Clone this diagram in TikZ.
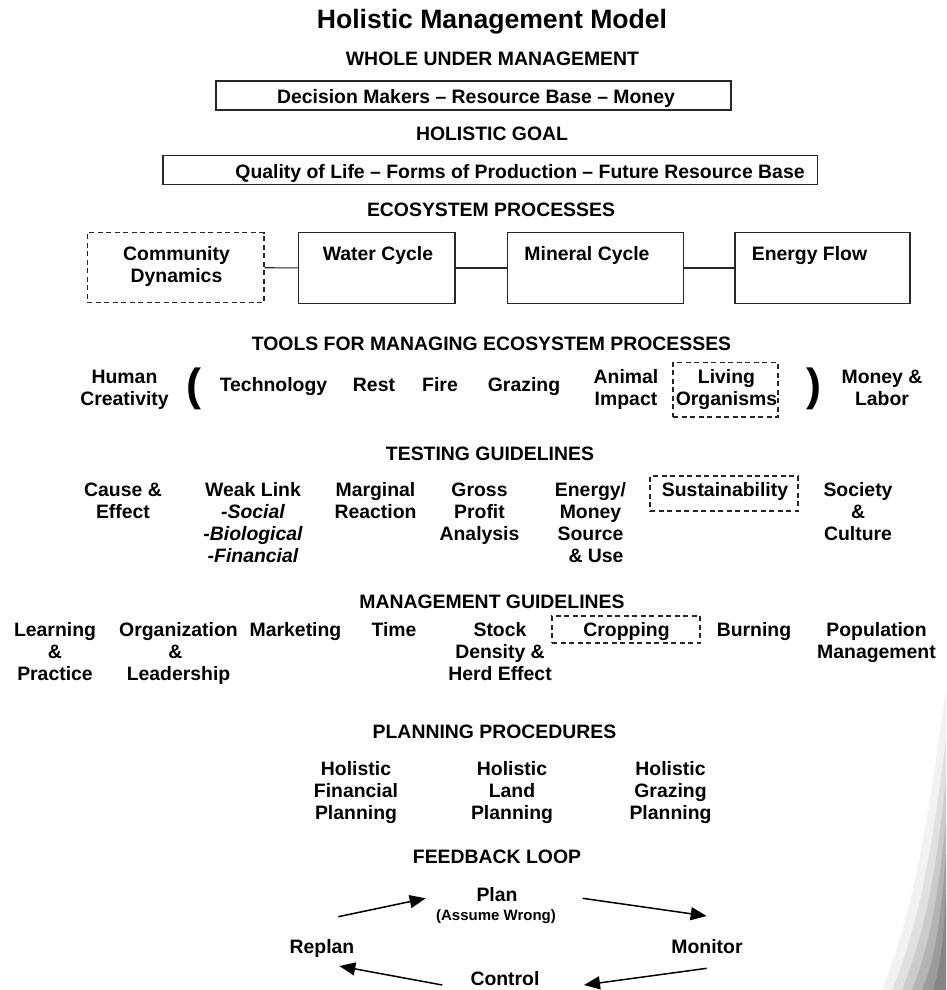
\documentclass[tikz,border=0pt]{standalone}
\usepackage{fontspec}
\setmainfont{Liberation Sans}
\usetikzlibrary{arrows.meta}
\newcommand{\ml}[1]{\begin{tabular}[t]{@{}c@{}}#1\end{tabular}}
\begin{document}
\begin{tikzpicture}[x=1pt,y=-1pt,
  txt/.style={inner sep=0pt, anchor=base, font=\bfseries\fontsize{19.4}{22}\selectfont},
  hdr/.style={txt},
  boxed/.style={draw=black!85, line width=1.2pt, inner sep=0pt, rectangle},
  dboxed/.style={boxed, dash pattern=on 5pt off 3.5pt},
  link/.style={draw=black!85, line width=1.2pt},
  arr/.style={line width=1.5pt, -{Triangle[length=16pt,width=13pt]}}
]
\useasboundingbox (0,0) rectangle (946,990);
\fill[white] (0,0) rectangle (946,990);

% scan smudge at lower right
\fill[black, opacity=0.05] (946,690) .. controls (930,800) and (918,900) .. (882,990) -- (946,990) -- cycle;
\fill[black, opacity=0.07] (946,740) .. controls (934,830) and (923,915) .. (892,990) -- (946,990) -- cycle;
\fill[black, opacity=0.09] (946,780) .. controls (937,860) and (928,925) .. (902,990) -- (946,990) -- cycle;
\fill[black, opacity=0.11] (946,820) .. controls (939,885) and (932,940) .. (912,990) -- (946,990) -- cycle;
\fill[black, opacity=0.13] (946,855) .. controls (941,910) and (937,955) .. (922,990) -- (946,990) -- cycle;
\fill[black, opacity=0.14] (946,890) .. controls (944,935) and (941,965) .. (933,990) -- (946,990) -- cycle;

% title
\node[txt, font=\bfseries\fontsize{26.6}{30}\selectfont] (title) at (492,29) {Holistic Management Model};

% whole under management
\node[hdr] (h1) at (492.5,65.9) {WHOLE UNDER MANAGEMENT};
\node[boxed, minimum width=515pt, minimum height=29pt] (b1) at (473.5,95.5) {};
\node[txt] (b1t) at (476,103.9) {Decision Makers -- Resource Base -- Money};

% holistic goal
\node[hdr] (h2) at (492,140.9) {HOLISTIC GOAL};
\node[boxed, minimum width=654.5pt, minimum height=28.6pt] (b2) at (490.25,170) {};
\node[txt] (b2t) at (520,178.9) {Quality of Life -- Forms of Production -- Future Resource Base};

% ecosystem processes
\node[hdr] (h3) at (491,216.4) {ECOSYSTEM PROCESSES};
\node[dboxed, minimum width=176.7pt, minimum height=70pt] (cd) at (175.7,267.7) {};
\node[boxed, minimum width=156.7pt, minimum height=70.6pt] (wc) at (376.7,268) {};
\node[boxed, minimum width=176pt, minimum height=70.6pt] (mc) at (595.3,268) {};
\node[boxed, minimum width=175pt, minimum height=70.6pt] (ef) at (822.5,268) {};
\node[txt] (cdt) at (176.5,260.6) {\ml{Community\\Dynamics}};
\node[txt] (wct) at (378,260.9) {Water Cycle};
\node[txt] (mct) at (587,260.9) {Mineral Cycle};
\node[txt] (eft) at (809.5,260.9) {Energy Flow};
\draw[link] (cd) -- (wc);
\draw[link] (wc) -- (mc);
\draw[link] (mc) -- (ef);

% tools
\node[hdr] (h4) at (491.5,350.9) {TOOLS FOR MANAGING ECOSYSTEM PROCESSES};
\node[txt] (t1) at (124.5,383.9) {\ml{Human\\Creativity}};
\node[inner sep=0pt, font=\bfseries\fontsize{45}{45}\selectfont] (lp) at (194,389) {(};
\node[txt] (t2) at (273.5,391.9) {Technology};
\node[txt] (t3) at (374,391.9) {Rest};
\node[txt] (t4) at (440,391.9) {Fire};
\node[txt] (t5) at (524,391.9) {Grazing};
\node[txt] (t6) at (626,383.9) {\ml{Animal\\Impact}};
\node[dboxed, minimum width=105pt, minimum height=54.3pt] (lob) at (725.5,389.9) {};
\node[txt] (t7) at (726.5,383.9) {\ml{Living\\Organisms}};
\node[inner sep=0pt, font=\bfseries\fontsize{45}{45}\selectfont] (rp) at (814,389) {)};
\node[txt] (t8) at (882,383.9) {\ml{Money \&\\Labor}};

% testing guidelines
\node[hdr] (h5) at (490,460.9) {TESTING GUIDELINES};
\node[txt] (g1) at (123,496.9) {\ml{Cause \&\\Effect}};
\node[txt] (g2) at (253,496.9) {\ml{Weak Link\\\itshape -Social\\\itshape -Biological\\\itshape -Financial}};
\node[txt] (g3) at (375.5,496.9) {\ml{Marginal\\Reaction}};
\node[txt] (g4) at (479.5,496.9) {\ml{Gross\\Profit\\Analysis}};
\node[txt] (g5) at (590.5,496.9) {\ml{Energy/\\Money\\Source\\\hspace*{11pt}\& Use}};
\node[dboxed, minimum width=148pt, minimum height=35pt] (sb) at (724,493.5) {};
\node[txt] (g6) at (725,496.9) {Sustainability};
\node[txt] (g7) at (858,496.9) {\ml{Society\\\&\\Culture}};

% management guidelines
\node[hdr] (h6) at (492,608.9) {MANAGEMENT GUIDELINES};
\node[txt] (m1) at (55,636.9) {\ml{Learning\\\&\\Practice}};
\node[txt] (m2) at (178.5,636.9) {\ml{Organization\\\hspace*{-6pt}\&\\Leadership}};
\node[txt] (m3) at (295.5,636.9) {Marketing};
\node[txt] (m4) at (394,636.9) {Time};
\node[txt] (m5) at (500,636.9) {\ml{Stock\\Density \&\\Herd Effect}};
\node[dboxed, minimum width=148pt, minimum height=27pt] (cb) at (626,629.5) {};
\node[txt] (m6) at (626.5,636.9) {Cropping};
\node[txt] (m7) at (754,636.9) {Burning};
\node[txt] (m8) at (876.5,636.9) {\ml{Population\\Management}};

% planning procedures
\node[hdr] (h7) at (494.5,738.9) {PLANNING PROCEDURES};
\node[txt] (p1) at (356,775.9) {\ml{Holistic\\Financial\\Planning}};
\node[txt] (p2) at (512,775.9) {\ml{Holistic\\Land\\Planning}};
\node[txt] (p3) at (670.5,775.9) {\ml{Holistic\\Grazing\\Planning}};

% feedback loop
\node[hdr] (h8) at (497,863.9) {FEEDBACK LOOP};
\node[txt] (plan) at (497,901.9) {Plan};
\node[txt, font=\bfseries\fontsize{15}{17}\selectfont] (aw) at (496,920.7) {(Assume Wrong)};
\node[txt] (replan) at (322,953.9) {Replan};
\node[txt] (monitor) at (707,953.9) {Monitor};
\node[txt] (control) at (505,985.5) {Control};

\coordinate (a1s) at (338.3,916.7);
\coordinate (a1e) at (425.7,898.3);
\coordinate (a2s) at (582.7,898.3);
\coordinate (a2e) at (706.7,916);
\coordinate (a3s) at (706.7,968.3);
\coordinate (a3e) at (584,985);
\coordinate (a4s) at (442.3,985);
\coordinate (a4e) at (339.3,966);
\draw[arr] (a1s) -- (a1e);
\draw[arr] (a2s) -- (a2e);
\draw[arr] (a3s) -- (a3e);
\draw[arr] (a4s) -- (a4e);
\end{tikzpicture}
\end{document}
